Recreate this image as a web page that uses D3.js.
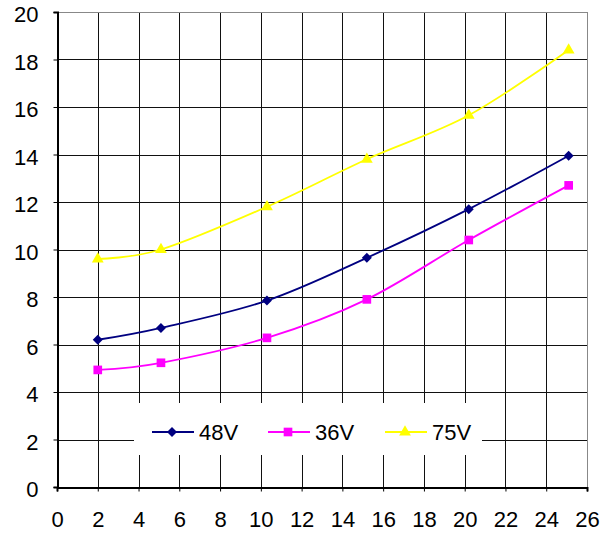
<!DOCTYPE html>
<html><head><meta charset="utf-8">
<script src="https://cdn.jsdelivr.net/npm/d3@7"></script>
<style>html,body{margin:0;padding:0;background:#fff}svg{display:block}</style>
</head><body>
<svg id="chart" width="615" height="538"></svg>
<script>
const xTicks = [0,2,4,6,8,10,12,14,16,18,20,22,24,26];
const yTicks = [0,2,4,6,8,10,12,14,16,18,20];
const xs48 = [2, 5.1, 10.3, 15.2, 20.2, 25.1];
const ys48 = [6.2, 6.7, 7.85, 9.65, 11.7, 13.95];
const xs36 = [2, 5.1, 10.3, 15.2, 20.2, 25.1];
const ys36 = [4.93, 5.23, 6.28, 7.9, 10.4, 12.7];
const xs75 = [2, 5.1, 10.3, 15.2, 20.2, 25.1];
const ys75 = [9.6, 10.0, 11.8, 13.8, 15.65, 18.4];
const seriesNames = ["48V","36V","75V"];
const seriesColors = ["#000080","#ff00ff","#ffff00"];

const diamond = { draw(ctx, size){ const r = Math.sqrt(size/2); ctx.moveTo(0,-r); ctx.lineTo(r,0); ctx.lineTo(0,r); ctx.lineTo(-r,0); ctx.closePath(); } };
const seriesSymbols = [diamond, d3.symbolSquare, d3.symbolTriangle];

const series = [
  {name: seriesNames[0], color: seriesColors[0], sym: seriesSymbols[0], size: 50, pts: xs48.map((x,i)=>[x, ys48[i]])},
  {name: seriesNames[1], color: seriesColors[1], sym: seriesSymbols[1], size: 75, pts: xs36.map((x,i)=>[x, ys36[i]])},
  {name: seriesNames[2], color: seriesColors[2], sym: seriesSymbols[2], size: 60, pts: xs75.map((x,i)=>[x, ys75[i]])}
];

const svg = d3.select("#chart");
const L = 57, R = 587, T = 12, B = 487;
const x = d3.scaleLinear().domain([0,26]).range([L,R]);
const y = d3.scaleLinear().domain([0,20]).range([B,T]);
const font = "Liberation Sans, Arial, sans-serif";

// grid
const g = svg.append("g");
g.selectAll(".vg").data(xTicks).enter().append("line")
  .attr("x1", d=>Math.round(x(d))+0.5).attr("x2", d=>Math.round(x(d))+0.5)
  .attr("y1", T).attr("y2", B)
  .attr("stroke", (d,i)=> i===xTicks.length-1 ? "#888" : "#111").attr("stroke-width", 1);
g.selectAll(".hg").data(yTicks).enter().append("line")
  .attr("y1", d=>Math.round(y(d))+0.5).attr("y2", d=>Math.round(y(d))+0.5)
  .attr("x1", L).attr("x2", R)
  .attr("stroke", (d,i)=> i===yTicks.length-1 ? "#888" : "#111").attr("stroke-width", 1);

// axes
const xAxis = svg.append("g").attr("transform", `translate(0,${Math.round(y(0))+0.5})`)
  .call(d3.axisBottom(x).tickValues(xTicks).tickSize(4).tickPadding(22));
const yAxis = svg.append("g").attr("transform", `translate(${Math.round(x(0))+0.5},0)`)
  .call(d3.axisLeft(y).tickValues(yTicks).tickSize(4).tickPadding(15));
[xAxis, yAxis].forEach(a => {
  a.select(".domain").attr("stroke", "#000").attr("stroke-width", 2);
  a.selectAll(".tick line").attr("stroke", "#000");
  a.selectAll("text").attr("font-family", font).attr("font-size", 22).attr("fill", "#000");
});
xAxis.selectAll("text").attr("dy", "0.6em");
yAxis.selectAll("text").attr("dy", "0.45em");

// lines
const line = d3.line().x(d=>x(d[0])).y(d=>y(d[1])).curve(d3.curveCardinal.tension(0));
series.forEach(s => {
  svg.append("path").datum(s.pts).attr("d", line)
    .attr("fill", "none").attr("stroke", s.color).attr("stroke-width", 1.8);
});
series.forEach(s => {
  svg.selectAll(null).data(s.pts).enter().append("path")
    .attr("d", d3.symbol().type(s.sym).size(s.size))
    .attr("transform", d=>`translate(${x(d[0])},${y(d[1])})`)
    .attr("fill", s.color);
});

// legend
const leg = svg.append("g");
leg.append("rect").attr("x", 134).attr("y", 403).attr("width", 348).attr("height", 52).attr("fill", "#fff");
const legX = [152, 268, 385];
series.forEach((s,i) => {
  const lx = legX[i], ly = 432;
  leg.append("line").attr("x1", lx).attr("x2", lx+42).attr("y1", ly).attr("y2", ly)
    .attr("stroke", s.color).attr("stroke-width", 2);
  leg.append("path").attr("d", d3.symbol().type(s.sym).size(s.size))
    .attr("transform", `translate(${lx+20},${ly})`).attr("fill", s.color);
  leg.append("text").attr("x", lx+47).attr("y", ly+8).text(s.name)
    .attr("font-family", font).attr("font-size", 22).attr("fill", "#000");
});
</script>
</body></html>
